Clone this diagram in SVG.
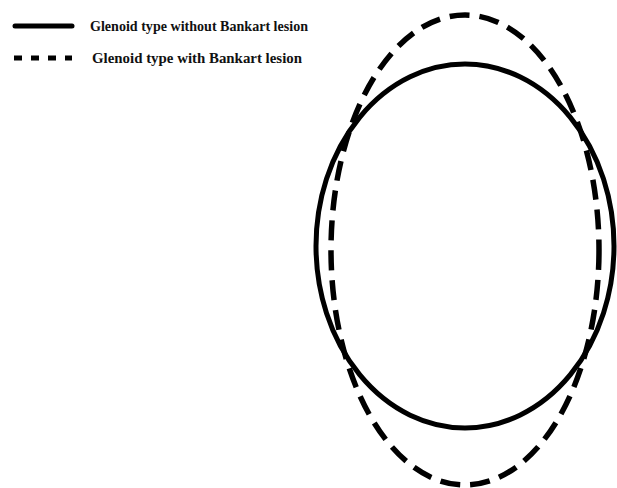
<svg xmlns="http://www.w3.org/2000/svg" width="617" height="488" viewBox="0 0 617 488">
<style>
.t{font-family:"Liberation Serif","Times New Roman",serif;font-weight:bold;font-size:15px;fill:#111}
.solid{fill:none;stroke:#000;stroke-width:5}
.dash{fill:none;stroke:#000;stroke-width:5.5;stroke-dasharray:20 10}
</style>
<rect width="617" height="488" fill="#fff"/>
<g id="legend">
<line x1="15" y1="26" x2="72" y2="26" stroke="#000" stroke-width="5" stroke-linecap="round"/>
<text class="t" x="90" y="31" textLength="218" lengthAdjust="spacingAndGlyphs">Glenoid type without Bankart lesion</text>
<line x1="14" y1="58" x2="72" y2="58" stroke="#000" stroke-width="5" stroke-dasharray="8 9"/>
<text class="t" x="92" y="63" textLength="210" lengthAdjust="spacingAndGlyphs">Glenoid type with Bankart lesion</text>
</g>
<g id="glenoid-without">
<ellipse class="solid" cx="465" cy="246" rx="149" ry="182"/>
</g>
<g id="glenoid-with">
<ellipse class="dash" cx="465" cy="250" rx="134" ry="235"/>
</g>
</svg>
